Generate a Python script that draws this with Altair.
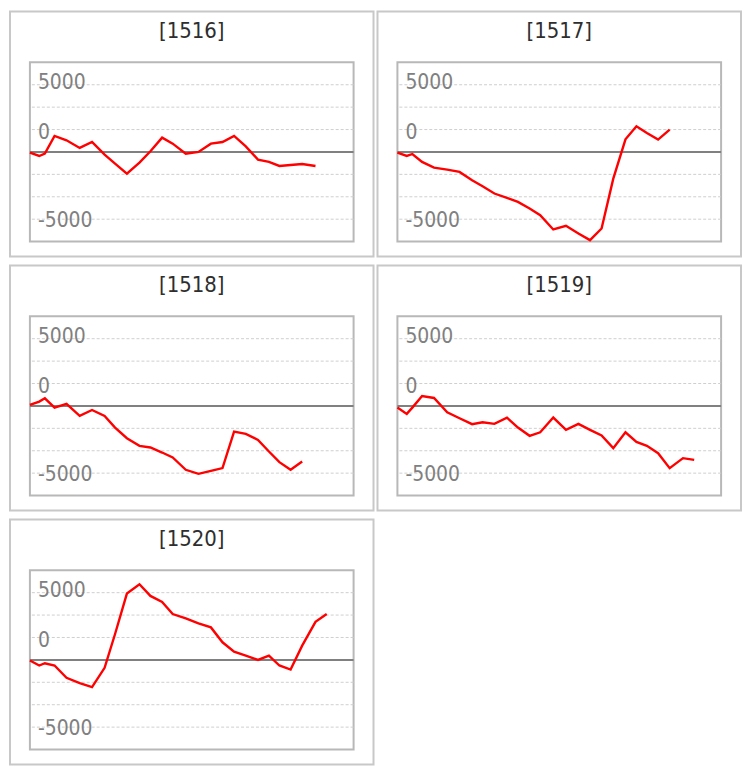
import altair as alt
import pandas as pd

# ---- data ----
panel_ids = ["1516", "1517", "1518", "1519", "1520"]

# shared x positions (time steps), plot spans 0..26
t_values = [0, 0.75, 1.2, 1.98, 2.94, 4.0, 4.99, 6.0, 6.84, 7.79, 8.8, 9.68,
            10.62, 11.47, 12.52, 13.54, 14.54, 15.47, 16.4, 17.34, 18.32,
            19.2, 20.04, 20.94, 21.87, 22.94, 23.84]

v1516 = [-60, -360, -150, 1430, 1040, 360, 890, -240, -1040, -1930, -950, 60,
         1280, 740, -150, 0, 740, 890, 1430, 500, -680, -890, -1250, -1160,
         -1070, -1250]
v1517 = [-60, -360, -180, -890, -1400, -1570, -1780, -2530, -3060, -3710,
         -4100, -4460, -5050, -5640, -6920, -6590, -7280, -7870, -6830, -2380,
         1130, 2290, 1690, 1100, 1990]
v1518 = [90, 390, 680, -150, 180, -890, -360, -890, -1930, -2880, -3560,
         -3710, -4160, -4600, -5700, -6060, -5790, -5550, -2290, -2500, -3030,
         -4070, -5020, -5700, -4960]
v1519 = [-150, -710, -150, 890, 710, -560, -1100, -1630, -1460, -1600, -1040,
         -1930, -2670, -2350, -1040, -2140, -1600, -2140, -2640, -3770, -2350,
         -3210, -3560, -4220, -5550, -4660, -4810]
v1520 = [-60, -500, -300, -500, -1600, -2070, -2430, -710, 2310, 5920, 6750,
         5710, 5180, 4090, 3700, 3260, 2900, 1570, 740, 390, 0, 390, -500,
         -860, 1270, 3400, 4090]

series = {"1516": v1516, "1517": v1517, "1518": v1518, "1519": v1519, "1520": v1520}

grid_values = [-6000, -4000, -2000, 2000, 4000, 6000]
label_pos = [6130, 1690, -6200]
label_text = ["5000", "0", "-5000"]

FONT = "DejaVu Sans Condensed"
W, H = 325, 180

yscale = alt.Scale(domain=[-8000, 8000], nice=False, zero=False)
xscale = alt.Scale(domain=[0, 26], nice=False, zero=False)


def panel(pid):
    vals = series[pid]
    df = pd.DataFrame({"t": t_values[:len(vals)], "v": vals})
    info = pd.DataFrame({"title": ["[" + pid + "]"]})

    frame = alt.Chart(info).mark_rect(
        filled=False, stroke="#c8c8c8", strokeWidth=2
    ).encode(x=alt.value(-20), x2=alt.value(W + 20),
             y=alt.value(-51), y2=alt.value(H + 15))

    title = alt.Chart(info).mark_text(
        font=FONT, fontSize=22, color="#2e2e2e", baseline="middle", align="center"
    ).encode(x=alt.value(W / 2), y=alt.value(-31), text="title:N")

    grid = alt.Chart(pd.DataFrame({"g": grid_values})).mark_rule(
        color="#cfcfcf", strokeWidth=1, strokeDash=[3, 2]
    ).encode(y=alt.Y("g:Q", scale=yscale, axis=None))

    zero = alt.Chart(pd.DataFrame({"z": [0]})).mark_rule(
        color="#808080", strokeWidth=2
    ).encode(y=alt.Y("z:Q", scale=yscale, axis=None))

    labels = alt.Chart(pd.DataFrame({"pos": label_pos, "label": label_text})).mark_text(
        align="left", baseline="middle", font=FONT, fontSize=21, color="#808080"
    ).encode(x=alt.value(8), y=alt.Y("pos:Q", scale=yscale, axis=None), text="label:N")

    line = alt.Chart(df).mark_line(color="#ff0000", strokeWidth=2.4).encode(
        x=alt.X("t:Q", scale=xscale, axis=None),
        y=alt.Y("v:Q", scale=yscale, axis=None),
        order="t:Q",
    )

    return alt.layer(frame, title, grid, zero, labels, line).properties(width=W, height=H)


chart = alt.concat(
    *[panel(p) for p in panel_ids], columns=2, spacing={"row": 5, "column": 0}
).properties(padding=0).configure_view(stroke="#b8b8b8", strokeWidth=2)

chart.save("out.html", embed_options={"renderer": "svg", "actions": False})
